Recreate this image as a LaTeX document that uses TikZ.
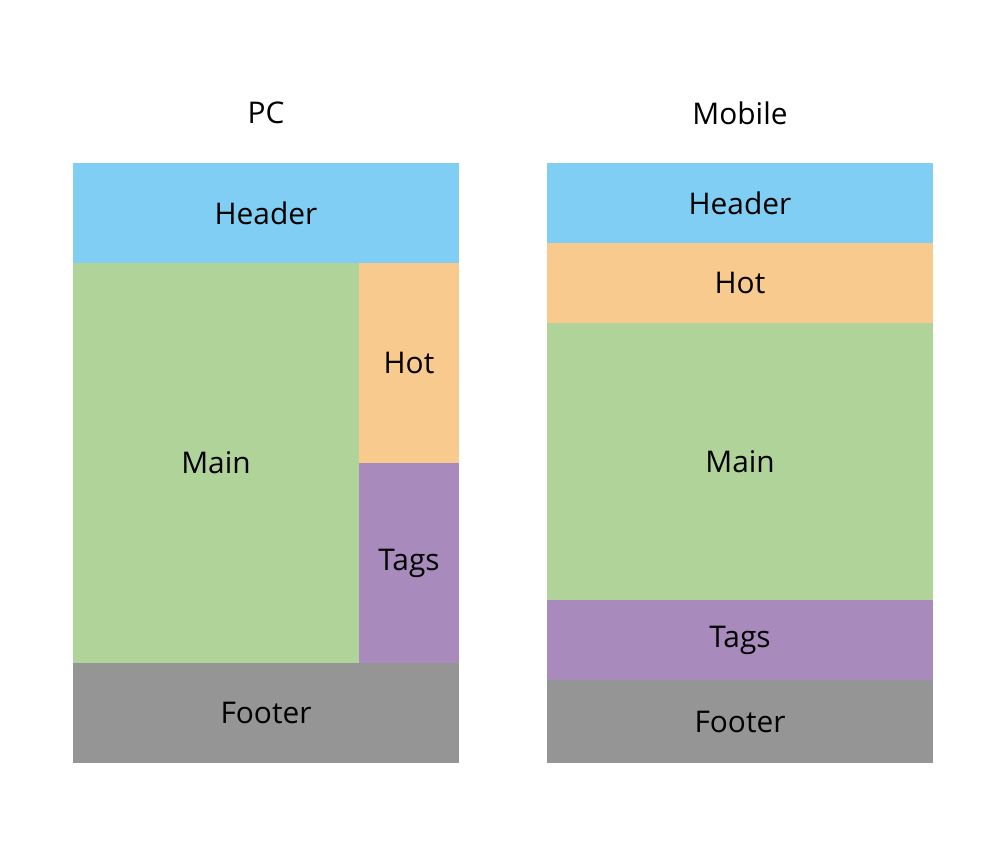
\documentclass[tikz,border=0pt]{standalone}
\usepackage{fontspec}
\setmainfont{Open Sans}
\definecolor{hdr}{HTML}{80CEF3}
\definecolor{mainc}{HTML}{B0D39A}
\definecolor{hotc}{HTML}{F8CA8E}
\definecolor{tagc}{HTML}{A98ABD}
\definecolor{ftr}{HTML}{959595}
\tikzset{
  block/.style={inner sep=0pt, outer sep=0pt, font=\fontsize{17}{20}\selectfont},
  title/.style={font=\fontsize{17}{20}\selectfont}
}
\begin{document}
\begin{tikzpicture}[x=0.02cm, y=-0.02cm]
  \useasboundingbox (0,0) rectangle (1000,846);
  % Titles
  \node[title] (pc) at (266,113) {PC};
  \node[title] (mob) at (740,113) {Mobile};

  % PC layout
  \node[block, fill=hdr, minimum width=7.72cm, minimum height=2cm] (pchead) at (266,213) {Header};
  \node[block, fill=mainc, minimum width=5.72cm, minimum height=8cm] (pcmain) at (216,463) {Main};
  \node[block, fill=hotc, minimum width=2cm, minimum height=4cm] (pchot) at (409,363) {Hot};
  \node[block, fill=tagc, minimum width=2cm, minimum height=4cm] (pctags) at (409,563) {Tags};
  \node[block, fill=ftr, minimum width=7.72cm, minimum height=2cm] (pcfoot) at (266,713) {Footer};

  % Mobile layout
  \node[block, fill=hdr, minimum width=7.72cm, minimum height=1.6cm] (mhead) at (740,203) {Header};
  \node[block, fill=hotc, minimum width=7.72cm, minimum height=1.6cm] (mhot) at (740,283) {Hot};
  \node[block, fill=mainc, minimum width=7.72cm, minimum height=5.54cm] (mmain) at (740,461.5) {Main};
  \node[block, fill=tagc, minimum width=7.72cm, minimum height=1.6cm] (mtags) at (740,640) {Tags};
  \node[block, fill=ftr, minimum width=7.72cm, minimum height=1.66cm] (mfoot) at (740,721.5) {Footer};
\end{tikzpicture}
\end{document}
